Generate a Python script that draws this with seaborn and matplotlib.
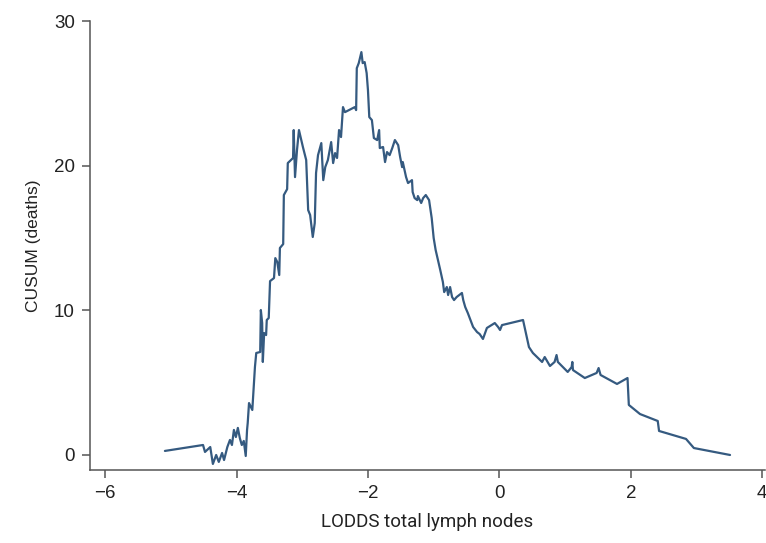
import numpy as np
import pandas as pd
import seaborn as sns
import matplotlib.pyplot as plt

# CUSUM curve (LODDS value, cumulative deaths)
lodds = [-5.09, -4.51, -4.48, -4.40, -4.36, -4.31, -4.27, -4.22, -4.19, -4.14,
         -4.10, -4.07, -4.04, -4.01, -3.98, -3.95, -3.92, -3.89, -3.86, -3.84,
         -3.83, -3.81, -3.76, -3.73, -3.72, -3.70, -3.64, -3.63, -3.61, -3.60,
         -3.58, -3.55, -3.54, -3.51, -3.49, -3.43, -3.41, -3.38, -3.35, -3.34,
         -3.29, -3.28, -3.23, -3.22, -3.14, -3.13, -3.11, -3.08, -3.05, -2.99,
         -2.94, -2.91, -2.88, -2.84, -2.81, -2.79, -2.76, -2.71, -2.68, -2.65,
         -2.61, -2.56, -2.53, -2.50, -2.47, -2.44, -2.41, -2.38, -2.35, -2.20,
         -2.18, -2.17, -2.14, -2.10, -2.08, -2.05, -2.02, -2.00, -1.98, -1.94,
         -1.91, -1.86, -1.83, -1.82, -1.77, -1.74, -1.71, -1.67, -1.63, -1.59,
         -1.54, -1.51, -1.48, -1.47, -1.42, -1.39, -1.33, -1.32, -1.29, -1.25,
         -1.24, -1.19, -1.16, -1.12, -1.07, -1.03, -1.00, -0.97, -0.90, -0.86,
         -0.84, -0.80, -0.78, -0.75, -0.72, -0.69, -0.65, -0.57, -0.55, -0.52,
         -0.48, -0.40, -0.34, -0.30, -0.25, -0.19, -0.07, -0.02, 0.01, 0.04,
         0.36, 0.45, 0.51, 0.65, 0.69, 0.77, 0.84, 0.87, 0.89, 1.04,
         1.10, 1.11, 1.12, 1.30, 1.48, 1.51, 1.54, 1.79, 1.95, 1.97,
         2.14, 2.41, 2.43, 2.84, 2.96, 3.51]
cusum = [0.28, 0.69, 0.21, 0.55, -0.62, 0.00, -0.48, 0.14, -0.35, 0.55,
         1.04, 0.69, 1.73, 1.24, 1.87, 1.17, 0.69, 0.97, -0.07, 1.73,
         2.21, 3.59, 3.11, 5.39, 6.08, 7.05, 7.12, 10.02, 9.12, 6.43,
         8.43, 8.29, 9.33, 9.47, 12.02, 12.23, 13.61, 13.34, 12.44, 14.31,
         14.58, 17.97, 18.38, 20.18, 20.53, 22.46, 19.21, 21.08, 22.46, 21.29,
         20.39, 16.93, 16.59, 15.07, 16.03, 19.49, 20.73, 21.56, 19.00, 19.90,
         20.39, 21.63, 20.18, 20.87, 20.53, 22.46, 21.98, 24.05, 23.70, 24.05,
         23.84, 26.74, 27.09, 27.85, 27.09, 27.16, 26.40, 25.22, 23.36, 23.15,
         21.91, 21.77, 22.46, 21.22, 21.29, 20.25, 20.94, 20.73, 21.22, 21.77,
         21.42, 20.59, 19.90, 20.25, 19.21, 18.80, 19.00, 18.18, 17.76, 17.62,
         17.90, 17.42, 17.76, 17.97, 17.62, 16.38, 15.00, 14.17, 12.79, 11.96,
         11.26, 11.61, 11.06, 11.61, 10.92, 10.71, 10.92, 11.20, 10.71, 10.23,
         9.81, 8.85, 8.50, 8.36, 8.02, 8.78, 9.12, 8.85, 8.64, 8.98,
         9.33, 7.46, 7.05, 6.43, 6.77, 6.15, 6.43, 6.91, 6.43, 5.74,
         6.08, 6.43, 5.87, 5.32, 5.67, 6.01, 5.53, 4.91, 5.32, 3.46,
         2.83, 2.35, 1.66, 1.11, 0.48, 0.00]

x_ticks = [-6, -4, -2, 0, 2, 4]
y_ticks = [0, 10, 20, 30]

df = pd.DataFrame({"lodds": lodds, "cusum": cusum})

sns.set_style("ticks")
plt.rcParams['font.family'] = ['Liberation Sans', 'DejaVu Sans']

fig = plt.figure(figsize=(7.66, 5.43), dpi=100)
ax = fig.add_axes([0.1175, 0.1344, 0.881, 0.8269])

sns.lineplot(data=df, x="lodds", y="cusum", sort=False, estimator=None,
             color="#355a80", linewidth=1.6, ax=ax)

ax.set_xlim(-6.23, 4.04)
ax.set_ylim(-1.04, 30.0)
ax.set_xticks(x_ticks)
ax.set_yticks(y_ticks)
ax.set_xticklabels(["\u22126", "\u22124", "\u22122", "0", "2", "4"])

sns.despine(ax=ax)
for side in ["left", "bottom"]:
    ax.spines[side].set_color("#555555")
    ax.spines[side].set_linewidth(1.1)
ax.tick_params(axis="both", colors="#555555", length=6, width=1.1,
               labelcolor="#222222", labelsize=13.5, pad=5)

ax.set_ylabel("CUSUM (deaths)", fontsize=12.5, color="#222222", labelpad=9)
ax.set_xlabel("LODDS total lymph nodes", fontsize=13.5, color="#222222",
              family=['Liberation Sans Narrow', 'Roboto', 'DejaVu Sans'],
              labelpad=8)

fig.savefig("out.png", dpi=100)
